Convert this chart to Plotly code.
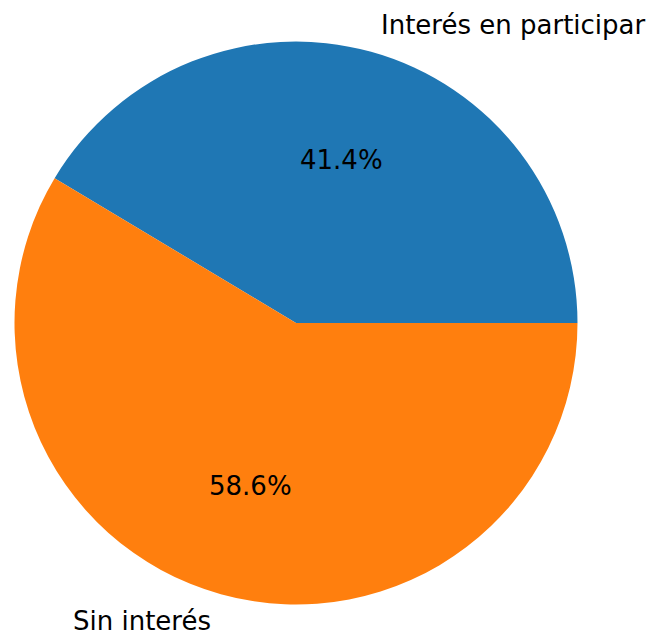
import numpy as np
import plotly.graph_objects as go

labels = ["Interés en participar", "Sin interés"]
values = [41.4, 58.6]
colors = ["#1f77b4", "#ff7f0e"]

W, H = 650, 633
cx_px, cy_px, r_px = 296, 323, 281.5
dom_x = [(cx_px - r_px) / W, (cx_px + r_px) / W]
dom_y = [(H - cy_px - r_px) / H, (H - cy_px + r_px) / H]

vals = np.array(values, dtype=float)
fracs = vals / vals.sum()

# matplotlib-style: first wedge starts at 3 o'clock and goes counterclockwise.
# In plotly's counterclockwise mode the first slice lies clockwise of `rotation`.
rotation = 90 - fracs[0] * 360

fig = go.Figure(go.Pie(
    labels=labels, values=values, sort=False, direction="counterclockwise",
    rotation=rotation, marker=dict(colors=colors, line=dict(width=0)),
    textinfo="none", hoverinfo="label+percent", showlegend=False,
    domain=dict(x=dom_x, y=dom_y),
))

starts = np.concatenate([[0], np.cumsum(fracs)[:-1]]) * 2 * np.pi
mids = starts + fracs * np.pi
cxp = (dom_x[0] + dom_x[1]) / 2
cyp = (dom_y[0] + dom_y[1]) / 2
rx = r_px / W
ry = r_px / H
font = dict(family="DejaVu Sans", size=26, color="#000000")
for lab, frac, a in zip(labels, fracs, mids):
    c, s = np.cos(a), np.sin(a)
    fig.add_annotation(x=cxp + 1.1 * rx * c, y=cyp + 1.1 * ry * s, xref="paper", yref="paper",
                       text=lab, showarrow=False, xanchor="left" if c > 0 else "right",
                       yanchor="middle", font=font)
    fig.add_annotation(x=cxp + 0.6 * rx * c, y=cyp + 0.6 * ry * s, xref="paper", yref="paper",
                       text=f"{frac*100:.1f}%", showarrow=False, xanchor="center",
                       yanchor="middle", font=font)

fig.update_layout(width=W, height=H, margin=dict(l=0, r=0, t=0, b=0),
                  paper_bgcolor="white", plot_bgcolor="white")
fig.write_html("out.html")
